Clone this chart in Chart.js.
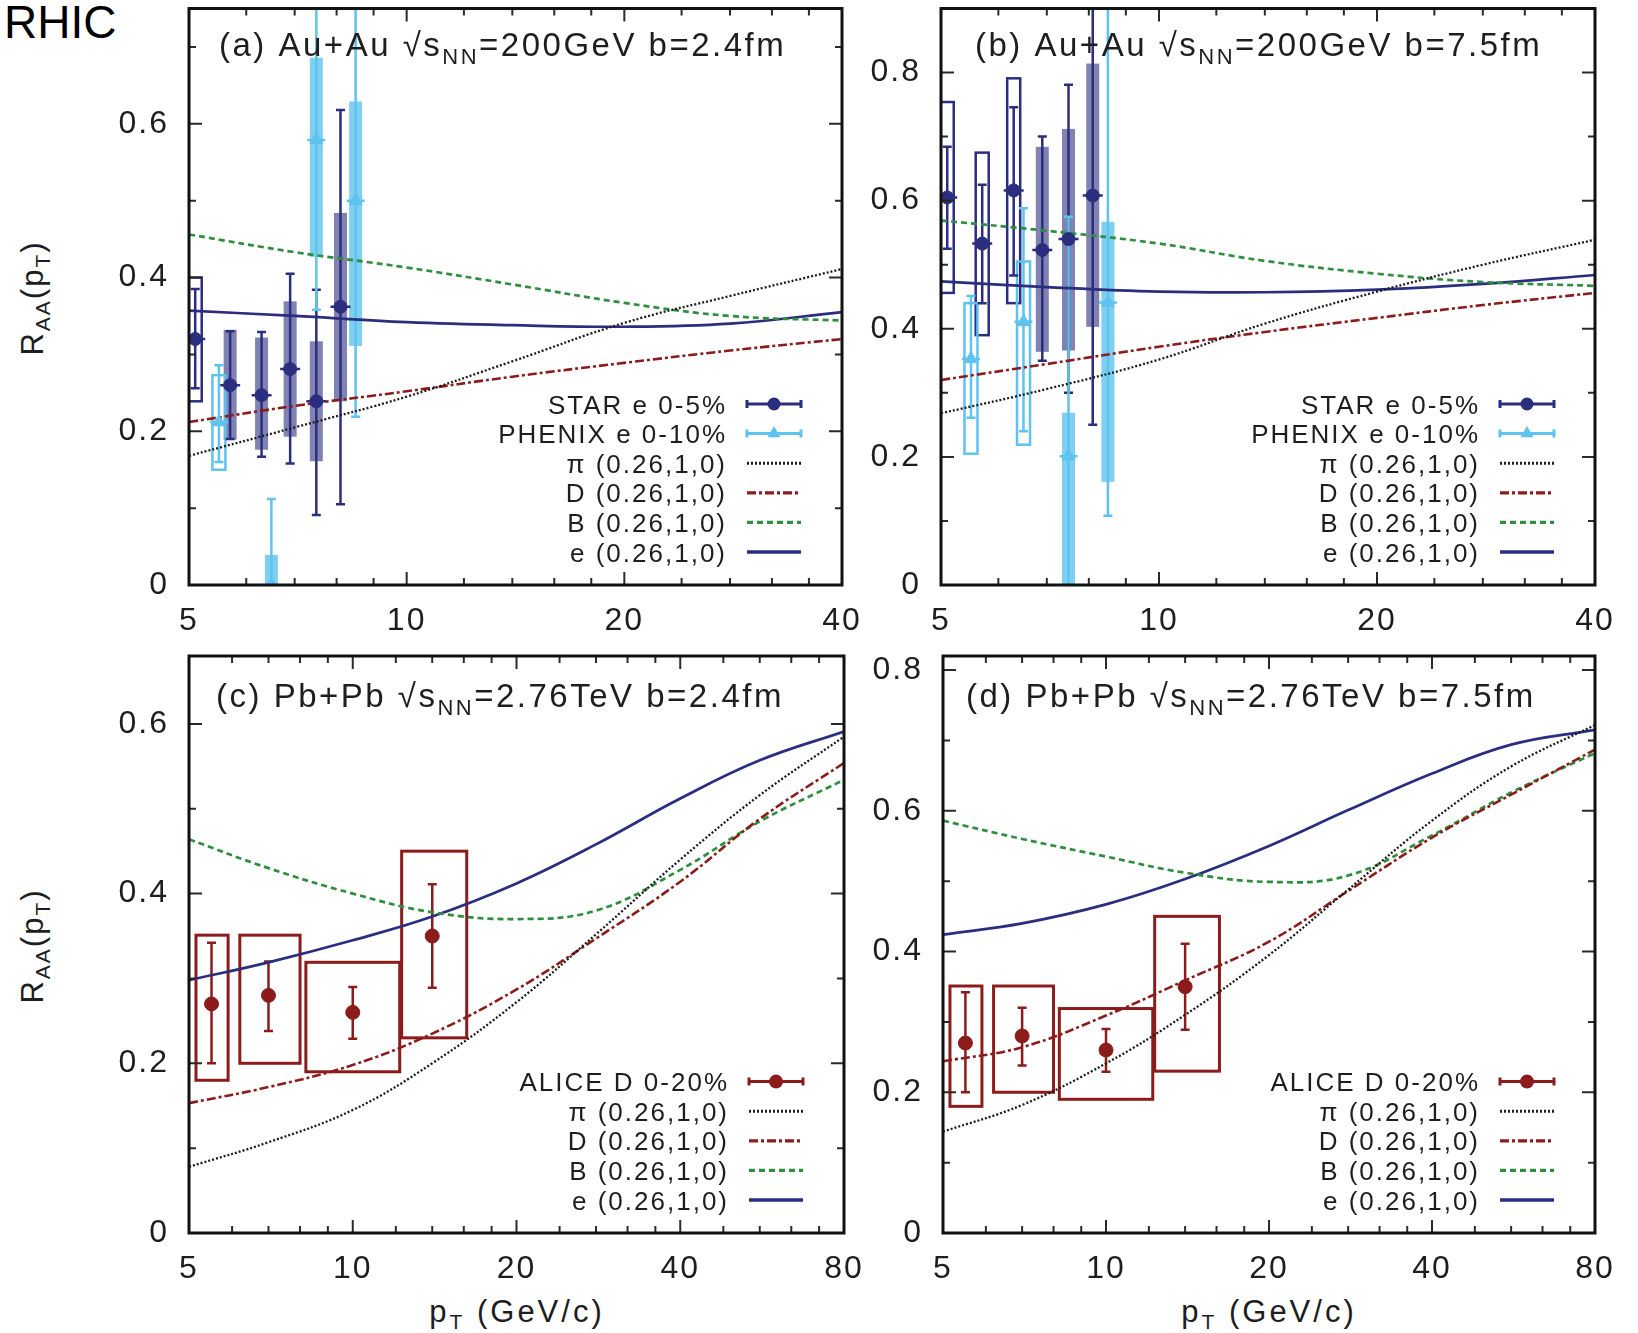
<!DOCTYPE html>
<html>
<head>
<meta charset="utf-8">
<title>R_AA RHIC / LHC</title>
<script src="https://cdn.jsdelivr.net/npm/chart.js@4.4.1/dist/chart.umd.min.js"></script>
<style>
  body { margin:0; width:1638px; height:1333px; background:#fff; position:relative; overflow:hidden;
         font-family:"Liberation Sans", Arial, sans-serif; color:#1e1e1e; }
  canvas { position:absolute; }
  .txt { position:absolute; white-space:nowrap; }
  .ylab { width:200px; height:32px; line-height:32px; font-size:31px; text-align:center;
          letter-spacing:2px; transform:rotate(-90deg); }
  .xlab { width:300px; height:30px; line-height:30px; font-size:31px; text-align:center; letter-spacing:3px; }
  .sub { font-size:21px; position:relative; top:7px; }
</style>
</head>
<body>
<div class="txt" style="left:4px;top:-1px;font-size:46px;line-height:46px;color:#000">RHIC</div>
<div class="txt ylab" style="left:-67px;top:282px">R<span class="sub">AA</span>(p<span class="sub">T</span>)</div>
<div class="txt ylab" style="left:-67px;top:930px">R<span class="sub">AA</span>(p<span class="sub">T</span>)</div>
<div class="txt xlab" style="left:367px;top:1297px">p<span class="sub">T</span> (GeV/c)</div>
<div class="txt xlab" style="left:1119px;top:1297px">p<span class="sub">T</span> (GeV/c)</div>

<canvas id="pa" width="780" height="650" style="left:100px;top:0px"></canvas>
<canvas id="pb" width="786" height="650" style="left:852px;top:0px"></canvas>
<canvas id="pc" width="780" height="700" style="left:100px;top:600px"></canvas>
<canvas id="pd" width="784" height="700" style="left:854px;top:600px"></canvas>

<script>
// ---------------- data ----------------
// axis ticks
const xTicksRhic = [5, 10, 20, 40];
const xTicksLhc = [5, 10, 20, 40, 80];
const xMinorRhic = [6, 7, 8, 9, 12, 14, 16, 18, 24, 28, 32, 36];
const xMinorLhc = [6, 7, 8, 9, 12, 14, 16, 18, 24, 28, 32, 36, 48, 56, 64, 72];
const yTicksA = [0, 0.2, 0.4, 0.6];
const yTicksB = [0, 0.2, 0.4, 0.6, 0.8];
const yTicksC = [0, 0.2, 0.4, 0.6];
const yTicksD = [0, 0.2, 0.4, 0.6, 0.8];
const yMinorA = [0.1, 0.3, 0.5, 0.7];
const yMinorB = [0.1, 0.3, 0.5, 0.7];
const yMinorC = [0.1, 0.3, 0.5];
const yMinorD = [0.1, 0.3, 0.5, 0.7];

// model curves (pi, D, B, e), sampled in pT
const ptRhic = [5, 7, 10, 14, 20, 28, 40];
const ptLhc = [5, 7, 10, 14, 20, 28, 40, 56, 80];

const piA = [0.168, 0.205, 0.245, 0.291, 0.341, 0.376, 0.411];
const dA  = [0.212, 0.233, 0.252, 0.271, 0.289, 0.305, 0.320];
const bA  = [0.456, 0.433, 0.413, 0.391, 0.367, 0.350, 0.344];
const eA  = [0.357, 0.350, 0.342, 0.338, 0.336, 0.340, 0.355];

const piB = [0.268, 0.306, 0.352, 0.408, 0.458, 0.500, 0.539];
const dB  = [0.320, 0.345, 0.372, 0.395, 0.417, 0.437, 0.456];
const bB  = [0.569, 0.553, 0.533, 0.506, 0.486, 0.473, 0.467];
const eB  = [0.474, 0.465, 0.458, 0.457, 0.461, 0.470, 0.484];

const piC = [0.078, 0.107, 0.145, 0.200, 0.272, 0.352, 0.440, 0.516, 0.585];
const dC  = [0.153, 0.172, 0.198, 0.235, 0.287, 0.347, 0.414, 0.488, 0.554];
const bC  = [0.464, 0.430, 0.400, 0.378, 0.370, 0.380, 0.428, 0.485, 0.534];
const eC  = [0.298, 0.319, 0.345, 0.373, 0.412, 0.458, 0.512, 0.557, 0.591];

const piD = [0.144, 0.182, 0.241, 0.310, 0.395, 0.488, 0.586, 0.663, 0.722];
const dD  = [0.244, 0.264, 0.309, 0.359, 0.414, 0.486, 0.562, 0.623, 0.687];
const bD  = [0.586, 0.560, 0.535, 0.512, 0.499, 0.508, 0.565, 0.626, 0.682];
const eD  = [0.424, 0.440, 0.467, 0.503, 0.550, 0.601, 0.653, 0.694, 0.715];

// STAR e 0-5%
const starPt = [5.1, 5.7, 6.3, 6.9, 7.5, 8.1];
const starA      = [0.320, 0.260, 0.247, 0.281, 0.239, 0.362];
const starAErrLo = [0.256, 0.190, 0.167, 0.158, 0.091, 0.105];
const starAErrHi = [0.385, 0.330, 0.329, 0.405, 0.384, 0.618];
const starASysLo = [0.239, 0.189, 0.176, 0.193, 0.161, 0.239];
const starASysHi = [0.400, 0.332, 0.322, 0.369, 0.317, 0.484];
const starB      = [0.605, 0.533, 0.616, 0.523, 0.540, 0.608];
const starBErrLo = [0.525, 0.440, 0.483, 0.350, 0.300, 0.250];
const starBErrHi = [0.684, 0.625, 0.746, 0.700, 0.781, 0.960];
const starBSysLo = [0.456, 0.390, 0.440, 0.364, 0.366, 0.403];
const starBSysHi = [0.754, 0.675, 0.791, 0.684, 0.712, 0.814];

// PHENIX e 0-10%
const phenixPt = [5.5, 6.5, 7.5, 8.5];
const phenixA      = [0.212, 0.000, 0.579, 0.500];
const phenixAErrLo = [0.160, -0.100, 0.358, 0.219];
const phenixAErrHi = [0.286, 0.112, 0.820, 0.820];
const phenixASysLo = [0.150, -0.050, 0.427, 0.311];
const phenixASysHi = [0.273, 0.039, 0.686, 0.629];
const phenixB      = [0.353, 0.411, 0.201, 0.441];
const phenixBErrLo = [0.261, 0.240, -0.100, 0.108];
const phenixBErrHi = [0.451, 0.588, 0.575, 1.000];
const phenixBSysLo = [0.205, 0.219, -0.050, 0.161];
const phenixBSysHi = [0.440, 0.505, 0.269, 0.567];

// ALICE D 0-20%
const alicePt    = [5.5, 7.0, 10.0, 14.0];
const aliceBinLo = [5.15, 6.2, 8.2, 12.3];
const aliceBinHi = [5.9, 8.0, 12.2, 16.2];
const aliceRaa   = [0.270, 0.280, 0.260, 0.350];
const aliceErrLo = [0.200, 0.238, 0.229, 0.289];
const aliceErrHi = [0.342, 0.320, 0.290, 0.411];
const aliceSysLo = [0.180, 0.200, 0.190, 0.230];
const aliceSysHi = [0.351, 0.351, 0.319, 0.450];

// ---------------- styles ----------------
const FONT = '"Liberation Sans", Arial, sans-serif';
const INK = '#1e1e1e';
const navy = '#2b2e7e', sky = '#5ec3ee', red = '#8c1c1c', green = '#2f8f3f';

const lineStyles = {
  pi: { color:'#1c1c1c', dash:[2, 2], width:2.3, label:'π (0.26,1,0)' },
  D:  { color:red, dash:[9, 3, 3, 3], width:2.6, label:'D (0.26,1,0)' },
  B:  { color:green, dash:[6, 4], width:2.7, label:'B (0.26,1,0)' },
  e:  { color:navy, dash:[], width:2.7, label:'e (0.26,1,0)' }
};
const pointStyles = {
  star:   { color:navy, fill:'rgba(43,46,126,0.6)', marker:'circle', radius:6.5, half:6.5, hbar:10, cap:4.5, boxLine:2.5, label:'STAR e 0-5%' },
  phenix: { color:sky, fill:'rgba(94,195,238,0.8)', marker:'triangle', radius:7.5, half:6.5, hbar:9, cap:4.5, boxLine:2.5, label:'PHENIX e 0-10%' },
  alice:  { color:red, fill:null, marker:'circle', radius:7, half:0, hbar:0, cap:4.5, boxLine:3, label:'ALICE D 0-20%' }
};

const panels = [
  { canvas:'pa', padTop:8, padRight:38, xAxisH:65, xMax:40, yMax:0.75,
    xTicks:xTicksRhic, xMinor:xMinorRhic, yTicks:yTicksA, yMinor:yMinorA,
    title:['(a) Au+Au √s', 'NN', '=200GeV b=2.4fm'], titleDx:30, titleDy:47,
    pt:ptRhic, curves:{ pi:piA, D:dA, B:bA, e:eA },
    points:[
      { kind:'star', pt:starPt, raa:starA, errLo:starAErrLo, errHi:starAErrHi, sysLo:starASysLo, sysHi:starASysHi, filled:[0,1,1,1,1,1] },
      { kind:'phenix', pt:phenixPt, raa:phenixA, errLo:phenixAErrLo, errHi:phenixAErrHi, sysLo:phenixASysLo, sysHi:phenixASysHi, filled:[0,1,1,1] }
    ],
    legend:['star', 'phenix', 'pi', 'D', 'B', 'e'] },
  { canvas:'pb', padTop:8, padRight:43, xAxisH:65, xMax:40, yMax:0.9,
    xTicks:xTicksRhic, xMinor:xMinorRhic, yTicks:yTicksB, yMinor:yMinorB,
    title:['(b) Au+Au √s', 'NN', '=200GeV b=7.5fm'], titleDx:34, titleDy:47,
    pt:ptRhic, curves:{ pi:piB, D:dB, B:bB, e:eB },
    points:[
      { kind:'star', pt:starPt, raa:starB, errLo:starBErrLo, errHi:starBErrHi, sysLo:starBSysLo, sysHi:starBSysHi, filled:[0,0,0,1,1,1] },
      { kind:'phenix', pt:phenixPt, raa:phenixB, errLo:phenixBErrLo, errHi:phenixBErrHi, sysLo:phenixBSysLo, sysHi:phenixBSysHi, filled:[0,0,1,1] }
    ],
    legend:['star', 'phenix', 'pi', 'D', 'B', 'e'] },
  { canvas:'pc', padTop:56, padRight:36, xAxisH:67, xMax:80, yMax:0.68,
    xTicks:xTicksLhc, xMinor:xMinorLhc, yTicks:yTicksC, yMinor:yMinorC,
    title:['(c) Pb+Pb √s', 'NN', '=2.76TeV b=2.4fm'], titleDx:27, titleDy:51,
    pt:ptLhc, curves:{ pi:piC, D:dC, B:bC, e:eC },
    points:[
      { kind:'alice', pt:alicePt, raa:aliceRaa, errLo:aliceErrLo, errHi:aliceErrHi, sysLo:aliceSysLo, sysHi:aliceSysHi, binLo:aliceBinLo, binHi:aliceBinHi }
    ],
    legend:['alice', 'pi', 'D', 'B', 'e'] },
  { canvas:'pd', padTop:56, padRight:43, xAxisH:67, xMax:80, yMax:0.82,
    xTicks:xTicksLhc, xMinor:xMinorLhc, yTicks:yTicksD, yMinor:yMinorD,
    title:['(d) Pb+Pb √s', 'NN', '=2.76TeV b=7.5fm'], titleDx:23, titleDy:51,
    pt:ptLhc, curves:{ pi:piD, D:dD, B:bD, e:eD },
    points:[
      { kind:'alice', pt:alicePt, raa:aliceRaa, errLo:aliceErrLo, errHi:aliceErrHi, sysLo:aliceSysLo, sysHi:aliceSysHi, binLo:aliceBinLo, binHi:aliceBinHi }
    ],
    legend:['alice', 'pi', 'D', 'B', 'e'] }
];

// ---------------- helpers ----------------
function marker(ctx, shape, x, y, r, color) {
  ctx.fillStyle = color;
  ctx.beginPath();
  if (shape === 'triangle') {
    ctx.moveTo(x, y - r);
    ctx.lineTo(x + r * 0.866, y + r * 0.5);
    ctx.lineTo(x - r * 0.866, y + r * 0.5);
    ctx.closePath();
  } else {
    ctx.arc(x, y, r, 0, Math.PI * 2);
  }
  ctx.fill();
}

function extras(p) {
  return {
    id: 'extras_' + p.canvas,
    beforeDraw(chart) {
      chart.ctx.letterSpacing = '2px';
    },
    beforeDatasetsDraw(chart) {
      const { ctx, chartArea: a } = chart;
      const xs = chart.scales.x, ys = chart.scales.y;
      ctx.save();
      ctx.beginPath();
      ctx.rect(a.left, a.top, a.right - a.left, a.bottom - a.top);
      ctx.clip();
      // systematic boxes
      p.points.forEach(s => {
        const st = pointStyles[s.kind];
        s.pt.forEach((v, i) => {
          const px = xs.getPixelForValue(v);
          const l = s.binLo ? xs.getPixelForValue(s.binLo[i]) : px - st.half;
          const r = s.binHi ? xs.getPixelForValue(s.binHi[i]) : px + st.half;
          const t = ys.getPixelForValue(s.sysHi[i]);
          const b = ys.getPixelForValue(s.sysLo[i]);
          if (s.filled && s.filled[i]) {
            ctx.fillStyle = st.fill;
            ctx.fillRect(l, t, r - l, b - t);
          } else {
            ctx.strokeStyle = st.color;
            ctx.lineWidth = st.boxLine;
            ctx.strokeRect(l, t, r - l, b - t);
          }
        });
      });
      // error bars
      p.points.forEach(s => {
        const st = pointStyles[s.kind];
        ctx.strokeStyle = st.color;
        ctx.lineWidth = 2.5;
        ctx.beginPath();
        s.pt.forEach((v, i) => {
          const px = xs.getPixelForValue(v);
          const t = ys.getPixelForValue(s.errHi[i]);
          const b = ys.getPixelForValue(s.errLo[i]);
          ctx.moveTo(px, t); ctx.lineTo(px, b);
          ctx.moveTo(px - st.cap, t); ctx.lineTo(px + st.cap, t);
          ctx.moveTo(px - st.cap, b); ctx.lineTo(px + st.cap, b);
          if (st.hbar) {
            const py = ys.getPixelForValue(s.raa[i]);
            ctx.moveTo(px - st.hbar, py); ctx.lineTo(px + st.hbar, py);
          }
        });
        ctx.stroke();
      });
      ctx.restore();
    },
    afterDraw(chart) {
      const { ctx, chartArea: a } = chart;
      const xs = chart.scales.x, ys = chart.scales.y;
      ctx.save();
      ctx.setLineDash([]);
      // inward ticks on all four sides
      ctx.strokeStyle = '#2a2a2a';
      ctx.lineWidth = 2;
      ctx.beginPath();
      const xt = (v, len) => {
        const px = xs.getPixelForValue(v);
        ctx.moveTo(px, a.bottom); ctx.lineTo(px, a.bottom - len);
        ctx.moveTo(px, a.top); ctx.lineTo(px, a.top + len);
      };
      const yt = (v, len) => {
        const py = ys.getPixelForValue(v);
        ctx.moveTo(a.left, py); ctx.lineTo(a.left + len, py);
        ctx.moveTo(a.right, py); ctx.lineTo(a.right - len, py);
      };
      p.xTicks.forEach(v => xt(v, 13));
      p.xMinor.forEach(v => xt(v, 7));
      p.yTicks.forEach(v => yt(v, 13));
      p.yMinor.forEach(v => yt(v, 7));
      ctx.stroke();
      // frame
      ctx.strokeStyle = '#111';
      ctx.lineWidth = 3;
      ctx.strokeRect(a.left, a.top, a.right - a.left, a.bottom - a.top);

      // title with subscript
      ctx.fillStyle = INK;
      ctx.textAlign = 'left';
      ctx.textBaseline = 'alphabetic';
      ctx.letterSpacing = '2.5px';
      let tx = a.left + p.titleDx;
      const ty = a.top + p.titleDy;
      ctx.font = '33px ' + FONT;
      ctx.fillText(p.title[0], tx, ty);
      tx += ctx.measureText(p.title[0]).width;
      ctx.font = '22px ' + FONT;
      ctx.fillText(p.title[1], tx, ty + 8);
      tx += ctx.measureText(p.title[1]).width;
      ctx.font = '33px ' + FONT;
      ctx.fillText(p.title[2], tx, ty);

      // legend: text right-aligned, sample on the right
      ctx.font = '26px ' + FONT;
      ctx.letterSpacing = '2px';
      const n = p.legend.length;
      const x1 = a.right - 95, x2 = a.right - 41;
      p.legend.forEach((k, i) => {
        const cy = a.bottom - 33 - (n - 1 - i) * 29.6;
        const pst = pointStyles[k], lst = lineStyles[k];
        const label = pst ? pst.label : lst.label;
        const w = ctx.measureText(label).width;
        ctx.fillStyle = INK;
        ctx.fillText(label, a.right - 117 - w + 2, cy + 9.5);
        if (pst) {
          ctx.setLineDash([]);
          ctx.strokeStyle = pst.color;
          ctx.lineWidth = 3;
          ctx.beginPath();
          ctx.moveTo(x1, cy); ctx.lineTo(x2, cy);
          ctx.moveTo(x1, cy - 4); ctx.lineTo(x1, cy + 4);
          ctx.moveTo(x2, cy - 4); ctx.lineTo(x2, cy + 4);
          ctx.stroke();
          marker(ctx, pst.marker, (x1 + x2) / 2, cy, pst.radius, pst.color);
        } else {
          ctx.setLineDash(lst.dash);
          ctx.strokeStyle = lst.color;
          ctx.lineWidth = lst.width + 0.6;
          ctx.beginPath();
          ctx.moveTo(x1, cy); ctx.lineTo(x2, cy);
          ctx.stroke();
        }
      });
      ctx.restore();
    }
  };
}

function build(p) {
  const datasets = [];
  p.points.forEach(s => {
    const st = pointStyles[s.kind];
    datasets.push({
      type: 'scatter', order: 0,
      data: s.pt.map((x, i) => ({ x, y: s.raa[i] })),
      pointStyle: st.marker, pointRadius: st.radius,
      backgroundColor: st.color, borderColor: st.color, borderWidth: 1
    });
  });
  ['pi', 'D', 'B', 'e'].forEach(k => {
    const st = lineStyles[k];
    datasets.push({
      type: 'line', order: 2,
      data: p.pt.map((x, i) => ({ x, y: p.curves[k][i] })),
      borderColor: st.color, borderDash: st.dash, borderWidth: st.width,
      pointRadius: 0, tension: 0.4, fill: false
    });
  });

  new Chart(document.getElementById(p.canvas), {
    data: { datasets },
    options: {
      responsive: false, animation: false, events: [],
      layout: { padding: { left: 0, top: p.padTop, right: p.padRight, bottom: 0 } },
      plugins: { legend: { display: false }, tooltip: { enabled: false } },
      scales: {
        x: {
          type: 'logarithmic', min: 5, max: p.xMax,
          grid: { display: false, drawTicks: false }, border: { display: false },
          ticks: { autoSkip: false, maxRotation: 0, padding: 17, color: INK,
                   font: { family: 'Liberation Sans', size: 32 }, callback: v => String(v) },
          afterBuildTicks: s => { s.ticks = p.xTicks.map(v => ({ value: v })); },
          afterFit: s => { s.height = p.xAxisH; s.paddingLeft = 0; s.paddingRight = 0; }
        },
        y: {
          type: 'linear', min: 0, max: p.yMax,
          grid: { display: false, drawTicks: false }, border: { display: false },
          ticks: { padding: 20, color: INK, font: { family: 'Liberation Sans', size: 32 },
                   callback: v => (v === 0 ? '0' : v.toFixed(1)) },
          afterBuildTicks: s => { s.ticks = p.yTicks.map(v => ({ value: v })); },
          afterFit: s => { s.width = 89; s.paddingTop = 0; s.paddingBottom = 0; }
        }
      }
    },
    plugins: [extras(p)]
  });
}

panels.forEach(build);
</script>
</body>
</html>
